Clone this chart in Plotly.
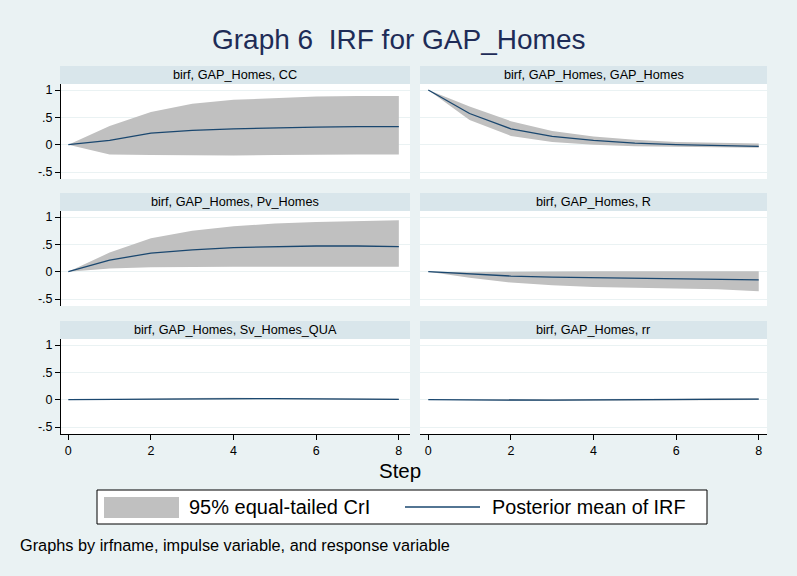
import plotly.graph_objects as go

# Impulse-response results: impulse GAP_Homes, horizon 0..8
steps = [0, 1, 2, 3, 4, 5, 6, 7, 8]

titles = [
    "birf, GAP_Homes, CC",
    "birf, GAP_Homes, GAP_Homes",
    "birf, GAP_Homes, Pv_Homes",
    "birf, GAP_Homes, R",
    "birf, GAP_Homes, Sv_Homes_QUA",
    "birf, GAP_Homes, rr",
]

cc_mean = [0, 0.08, 0.21, 0.26, 0.29, 0.31, 0.32, 0.33, 0.33]
cc_lo = [0, -0.18, -0.19, -0.20, -0.20, -0.19, -0.18, -0.18, -0.18]
cc_hi = [0, 0.34, 0.60, 0.75, 0.82, 0.85, 0.88, 0.89, 0.89]

gap_mean = [1.0, 0.57, 0.29, 0.15, 0.08, 0.03, 0.0, -0.02, -0.03]
gap_lo = [1.0, 0.45, 0.16, 0.05, 0.0, -0.03, -0.04, -0.05, -0.055]
gap_hi = [1.0, 0.70, 0.43, 0.25, 0.15, 0.09, 0.05, 0.03, 0.02]

pv_mean = [0, 0.21, 0.34, 0.40, 0.44, 0.46, 0.47, 0.47, 0.46]
pv_lo = [0, 0.06, 0.08, 0.09, 0.09, 0.09, 0.09, 0.09, 0.09]
pv_hi = [0, 0.35, 0.61, 0.75, 0.83, 0.88, 0.91, 0.93, 0.94]

r_mean = [0, -0.04, -0.08, -0.10, -0.11, -0.12, -0.13, -0.13, -0.15]
r_lo = [0, -0.11, -0.20, -0.25, -0.28, -0.30, -0.31, -0.32, -0.36]
r_hi = [0, -0.01, 0.0, 0.01, 0.01, 0.01, 0.01, 0.01, 0.01]

sv_mean = [0, 0.005, 0.015, 0.02, 0.02, 0.02, 0.015, 0.01, 0.005]
sv_lo = [0, -0.005, 0.005, 0.01, 0.01, 0.008, 0.004, 0.0, -0.005]
sv_hi = [0, 0.012, 0.025, 0.032, 0.033, 0.032, 0.027, 0.02, 0.015]

rr_mean = [0, -0.005, -0.01, -0.01, -0.005, 0.0, 0.005, 0.01, 0.01]
rr_lo = [0, -0.012, -0.02, -0.022, -0.018, -0.014, -0.01, -0.007, -0.006]
rr_hi = [0, 0.002, 0.0, 0.002, 0.006, 0.012, 0.018, 0.024, 0.026]

panels = [
    (cc_mean, cc_lo, cc_hi),
    (gap_mean, gap_lo, gap_hi),
    (pv_mean, pv_lo, pv_hi),
    (r_mean, r_lo, r_hi),
    (sv_mean, sv_lo, sv_hi),
    (rr_mean, rr_lo, rr_hi),
]

y_ticks = [-0.5, 0, 0.5, 1]
y_labels = ["-.5", "0", ".5", "1"]
x_ticks = [0, 2, 4, 6, 8]

W, H = 797, 576
BG = "#EAF2F3"
STRIP = "#D9E6EB"
BAND = "#C0C0C0"
LINE = "#1A476F"
TITLE = "#1E2C57"
FONT = "Liberation Sans, Arial, sans-serif"


def px(x):
    return x / W


def py(y):
    return 1 - y / H


# panel geometry in pixels
cols = [(61, 410, [-0.177, 8.27]), (420, 767, [-0.2, 8.2])]
rows = [(84, 179), (211, 306), (339, 434)]
YR = [-0.628, 1.11]

fig = go.Figure()
shapes = []
annotations = []

for i, (mean, lo, hi) in enumerate(panels):
    r, c = divmod(i, 2)
    x0, x1, xr = cols[c]
    y0, y1 = rows[r]
    n = i + 1
    xa = "x" if n == 1 else f"x{n}"
    ya = "y" if n == 1 else f"y{n}"
    xkey = "xaxis" if n == 1 else f"xaxis{n}"
    ykey = "yaxis" if n == 1 else f"yaxis{n}"

    fig.add_trace(go.Scatter(x=steps, y=lo, mode="lines", line=dict(width=0),
                             xaxis=xa, yaxis=ya, showlegend=False, hoverinfo="skip"))
    fig.add_trace(go.Scatter(x=steps, y=hi, mode="lines", line=dict(width=0),
                             fill="tonexty", fillcolor=BAND,
                             xaxis=xa, yaxis=ya, showlegend=False, hoverinfo="skip"))
    fig.add_trace(go.Scatter(x=steps, y=mean, mode="lines",
                             line=dict(color=LINE, width=1.3),
                             xaxis=xa, yaxis=ya, showlegend=False))

    bottom = r == 2
    left = c == 0
    fig.layout[xkey] = dict(
        domain=[px(x0), px(x1)], range=xr, anchor=ya,
        showgrid=False, zeroline=False,
        showline=bottom, linecolor="black", linewidth=1,
        ticks="outside" if bottom else "", ticklen=5, tickcolor="black",
        tickvals=x_ticks, showticklabels=bottom,
        tickfont=dict(family=FONT, size=12.5, color="black"),
    )
    fig.layout[ykey] = dict(
        domain=[py(y1), py(y0)], range=YR, anchor=xa,
        showgrid=True, gridcolor=BG, gridwidth=1, zeroline=False,
        showline=left, linecolor="black", linewidth=1,
        ticks="outside" if left else "", ticklen=5, tickcolor="black",
        tickvals=y_ticks, ticktext=y_labels, showticklabels=left,
        tickfont=dict(family=FONT, size=12.5, color="black"),
    )

    # white plot region
    shapes.append(dict(type="rect", xref="paper", yref="paper", layer="below",
                       x0=px(x0), x1=px(x1), y0=py(y1), y1=py(y0),
                       fillcolor="white", line=dict(width=0)))
    # strip header
    sx0 = x0 - 1 if left else x0
    shapes.append(dict(type="rect", xref="paper", yref="paper",
                       x0=px(sx0), x1=px(x1), y0=py(y0), y1=py(y0 - 18),
                       fillcolor=STRIP, line=dict(width=0)))
    annotations.append(dict(text=titles[i], xref="paper", yref="paper",
                            x=px((sx0 + x1) / 2), y=py(y0 - 9), showarrow=False,
                            xanchor="center", yanchor="middle",
                            font=dict(family=FONT, size=12.7, color="black")))

# main title
annotations.append(dict(text="Graph 6\u00a0\u00a0IRF for GAP_Homes", xref="paper", yref="paper",
                        x=px(398.5), y=py(40), showarrow=False, xanchor="center", yanchor="middle",
                        font=dict(family=FONT, size=28, color=TITLE)))
# x axis title
annotations.append(dict(text="Step", xref="paper", yref="paper",
                        x=px(400), y=py(470), showarrow=False, xanchor="center", yanchor="middle",
                        font=dict(family=FONT, size=20.5, color="black")))

# legend box
shapes.append(dict(type="rect", xref="paper", yref="paper",
                   x0=px(97), x1=px(707), y0=py(524), y1=py(490),
                   fillcolor="white", line=dict(color="black", width=1)))
shapes.append(dict(type="rect", xref="paper", yref="paper",
                   x0=px(104), x1=px(179), y0=py(518), y1=py(497),
                   fillcolor=BAND, line=dict(width=0)))
shapes.append(dict(type="line", xref="paper", yref="paper",
                   x0=px(405), x1=px(480), y0=py(507), y1=py(507),
                   line=dict(color=LINE, width=1.5)))
annotations.append(dict(text="95% equal-tailed CrI", xref="paper", yref="paper",
                        x=px(187), y=py(507), showarrow=False, xanchor="left", yanchor="middle",
                        font=dict(family=FONT, size=20, color="black")))
annotations.append(dict(text="Posterior mean of IRF", xref="paper", yref="paper",
                        x=px(490), y=py(507), showarrow=False, xanchor="left", yanchor="middle",
                        font=dict(family=FONT, size=19.8, color="black")))

# note
annotations.append(dict(text="Graphs by irfname, impulse variable, and response variable",
                        xref="paper", yref="paper", x=px(18), y=py(545), showarrow=False,
                        xanchor="left", yanchor="middle",
                        font=dict(family=FONT, size=16.3, color="black")))

fig.update_layout(
    width=W, height=H,
    margin=dict(l=0, r=0, t=0, b=0),
    paper_bgcolor=BG, plot_bgcolor="white",
    shapes=shapes, annotations=annotations,
    showlegend=False,
)

fig.write_html("out.html")
